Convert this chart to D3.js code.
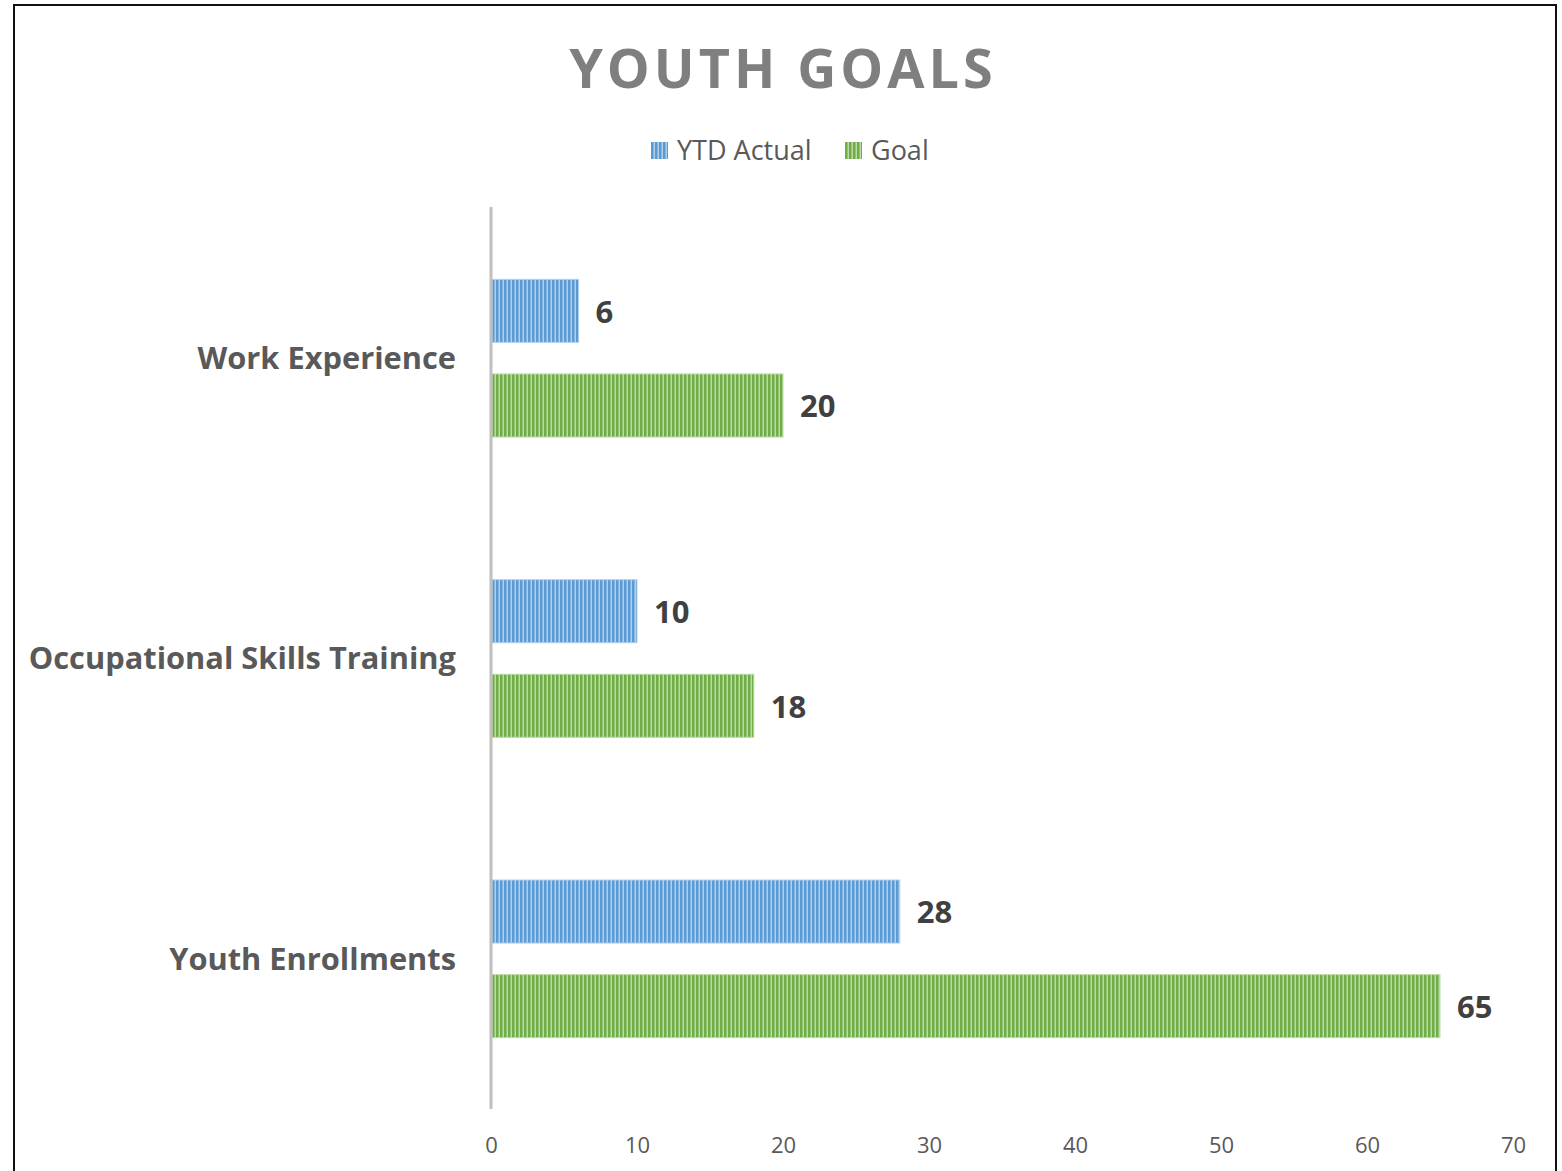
<!DOCTYPE html>
<meta charset="utf-8">
<style>
    body { margin: 0; background: #fff; }
    svg { display: block; }
    text { font-family: "Open Sans", sans-serif; }
</style>
<svg width="1562" height="1171"></svg>
<script src="https://cdn.jsdelivr.net/npm/d3@7"></script>
<script>

    var categories = ["Work Experience", "Occupational Skills Training", "Youth Enrollments"];
    var seriesNames = ["YTD Actual", "Goal"];
    var ytdActual = [6, 10, 28];
    var goal = [20, 18, 65];
    var xTicks = [0, 10, 20, 30, 40, 50, 60, 70];
    var colors = ["#5b9bd5", "#70ad47"];
    var lightColors = ["#b3cfee", "#bcdca6"];

    var svg = d3.select("svg"),
        width = +svg.attr("width"),
        height = +svg.attr("height");

    // chart frame (bottom edge falls outside the picture)
    svg.append("rect")
        .attr("x", 14).attr("y", 5)
        .attr("width", 1542).attr("height", 1200)
        .attr("fill", "#fff")
        .attr("stroke", "#111").attr("stroke-width", 2);

    // striped fills
    var defs = svg.append("defs");
    colors.forEach(function (c, i) {
        var p = defs.append("pattern")
            .attr("id", "stripe" + i)
            .attr("patternUnits", "userSpaceOnUse")
            .attr("width", 4).attr("height", 4);
        p.append("rect").attr("width", 4).attr("height", 4).attr("fill", lightColors[i]);
        p.append("rect").attr("width", 2.5).attr("height", 4).attr("fill", c);
    });

    var margin = { left: 491, right: 49, top: 208, bottom: 62 };

    var x = d3.scaleLinear()
        .domain([0, 70])
        .range([margin.left, width - margin.right]);

    var y = d3.scaleBand()
        .domain(categories)
        .range([margin.top, height - margin.bottom]);

    var barH = y.bandwidth() * 0.21;
    var inner = d3.scaleBand()
        .domain(seriesNames)
        .range([y.bandwidth() / 2 - barH * 1.25, y.bandwidth() / 2 + barH * 1.25])
        .paddingInner(1 / 3);

    // title
    svg.append("text")
        .attr("x", 783).attr("y", 88)
        .attr("text-anchor", "middle")
        .attr("font-size", 54)
        .attr("font-weight", 700)
        .attr("letter-spacing", 4)
        .attr("fill", "#7f7f7f")
        .text("YOUTH GOALS");

    // legend
    var legendX = [651, 845];
    var legend = svg.append("g").selectAll("g")
        .data(seriesNames)
        .join("g")
        .attr("transform", function (d, i) { return "translate(" + legendX[i] + ",142)"; });
    legend.append("rect")
        .attr("width", 17).attr("height", 17)
        .attr("fill", function (d, i) { return "url(#stripe" + i + ")"; });
    legend.append("text")
        .attr("x", 26).attr("y", 18)
        .attr("font-size", 27)
        .attr("fill", "#595959")
        .text(function (d) { return d; });

    // bars
    var data = categories.map(function (c, i) {
        return { cat: c, values: [ytdActual[i], goal[i]] };
    });

    var groups = svg.append("g").selectAll("g")
        .data(data)
        .join("g")
        .attr("transform", function (d) { return "translate(0," + y(d.cat) + ")"; });

    var bars = groups.selectAll("g")
        .data(function (d) { return d.values.map(function (v, i) { return { s: seriesNames[i], i: i, v: v }; }); })
        .join("g");

    bars.append("rect")
        .attr("x", x(0) + 1)
        .attr("y", function (d) { return inner(d.s); })
        .attr("width", function (d) { return x(d.v) - x(0) - 1; })
        .attr("height", inner.bandwidth())
        .attr("fill", function (d) { return "url(#stripe" + d.i + ")"; })
        .attr("stroke", function (d) { return lightColors[d.i]; })
        .attr("stroke-width", 1);

    bars.append("text")
        .attr("x", function (d) { return x(d.v) + 17; })
        .attr("y", function (d) { return inner(d.s) + inner.bandwidth() / 2 + 1; })
        .attr("dy", "0.35em")
        .attr("font-size", 31)
        .attr("font-weight", 700)
        .attr("fill", "#404040")
        .text(function (d) { return d.v; });

    // category labels
    svg.append("g").selectAll("text")
        .data(categories)
        .join("text")
        .attr("x", 456)
        .attr("y", function (d) { return y(d) + y.bandwidth() / 2; })
        .attr("dy", "0.35em")
        .attr("text-anchor", "end")
        .attr("font-size", 30.8)
        .attr("font-weight", 700)
        .attr("fill", "#595959")
        .text(function (d) { return d; });

    // vertical axis line
    svg.append("line")
        .attr("x1", x(0)).attr("x2", x(0))
        .attr("y1", margin.top - 1).attr("y2", height - margin.bottom)
        .attr("stroke", "#bfbfbf").attr("stroke-width", 3);

    // x axis
    var xAxis = svg.append("g")
        .attr("transform", "translate(0," + (height - margin.bottom) + ")")
        .call(d3.axisBottom(x).tickValues(xTicks).tickSize(0).tickPadding(28));
    xAxis.select(".domain").remove();
    xAxis.selectAll("text")
        .attr("font-family", "'Open Sans', sans-serif")
        .attr("font-size", 22)
        .attr("fill", "#595959");

</script>
